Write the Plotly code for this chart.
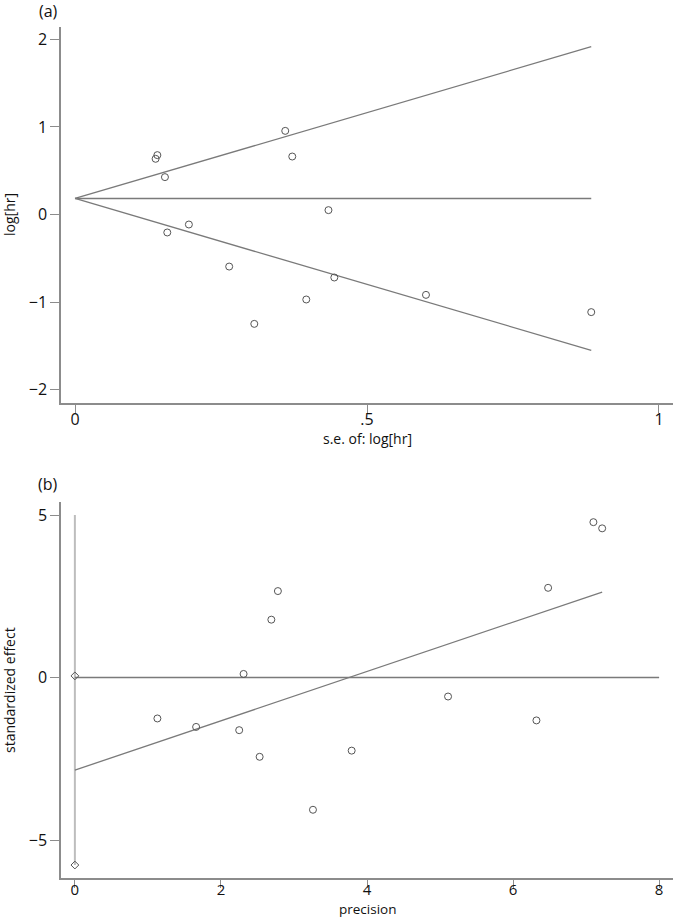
import plotly.graph_objects as go

# ---- Panel (a): funnel plot data ----
se_loghr = [0.138, 0.141, 0.154, 0.158, 0.195, 0.264, 0.307, 0.360, 0.372, 0.396, 0.434, 0.444, 0.601, 0.884]
loghr = [0.636, 0.678, 0.427, -0.205, -0.114, -0.594, -1.248, 0.955, 0.662, -0.970, 0.050, -0.719, -0.917, -1.114]
pooled_loghr = 0.183
funnel_se_max = 0.884
a_xticks = [0, 0.5, 1]
a_xticktext = ["0", ".5", "1"]
a_yticks = [-2, -1, 0, 1, 2]

# ---- Panel (b): Egger plot data ----
precision = [7.22, 7.10, 6.48, 6.32, 5.11, 3.79, 3.26, 2.78, 2.69, 2.53, 2.31, 2.25, 1.66, 1.13]
std_effect = [4.59, 4.78, 2.76, -1.32, -0.585, -2.25, -4.07, 2.66, 1.78, -2.44, 0.11, -1.62, -1.52, -1.26]
egger_intercept = -2.85
egger_slope = 0.759
egger_ci = [0.05, -5.77]
b_vline_top = 5
b_xticks = [0, 2, 4, 6, 8]
b_yticks = [-5, 0, 5]

FONT = "Open Sans"
LINE = "#7a7a7a"
AX = "#8c8c8c"
MK = "#555555"

fig = go.Figure()

# funnel lines (a)
lo_end = pooled_loghr - 1.96 * funnel_se_max
hi_end = pooled_loghr + 1.96 * funnel_se_max
for yend in [hi_end, pooled_loghr, lo_end]:
    fig.add_trace(go.Scatter(x=[0, funnel_se_max], y=[pooled_loghr, yend], mode="lines",
                             line=dict(color=LINE, width=1.3), xaxis="x", yaxis="y", hoverinfo="skip"))
fig.add_trace(go.Scatter(x=se_loghr, y=loghr, mode="markers",
                         marker=dict(symbol="circle-open", size=7, color=MK, line=dict(width=1)),
                         xaxis="x", yaxis="y"))

# Egger plot (b)
fig.add_trace(go.Scatter(x=[0, 0], y=[b_vline_top, min(egger_ci)], mode="lines",
                         line=dict(color="#bdbdbd", width=2), xaxis="x2", yaxis="y2", hoverinfo="skip"))
fig.add_trace(go.Scatter(x=[0, max(b_xticks)], y=[0, 0], mode="lines",
                         line=dict(color=LINE, width=1.3), xaxis="x2", yaxis="y2", hoverinfo="skip"))
xmax_p = max(precision)
fig.add_trace(go.Scatter(x=[0, xmax_p], y=[egger_intercept, egger_intercept + egger_slope * xmax_p],
                         mode="lines", line=dict(color=LINE, width=1.3), xaxis="x2", yaxis="y2", hoverinfo="skip"))
fig.add_trace(go.Scatter(x=[0, 0], y=egger_ci, mode="markers",
                         marker=dict(symbol="diamond-open", size=6, color=MK, line=dict(width=1)),
                         xaxis="x2", yaxis="y2"))
fig.add_trace(go.Scatter(x=precision, y=std_effect, mode="markers",
                         marker=dict(symbol="circle-open", size=7, color=MK, line=dict(width=1)),
                         xaxis="x2", yaxis="y2"))

W, H = 675, 920
xdom = [61 / W, 673 / W]
a_dom = [1 - 402.7 / H, 1 - 26.7 / H]
b_dom = [1 - 877.7 / H, 1 - 501.7 / H]

axcommon = dict(showline=True, linecolor=AX, linewidth=1.5, ticks="outside", ticklen=9,
                tickcolor=AX, tickwidth=1.2, showgrid=False, zeroline=False)
tf16 = dict(family=FONT, size=16, color="#111")
tf15 = dict(family=FONT, size=15, color="#111")

fig.update_layout(
    width=W, height=H, margin=dict(l=0, r=0, t=0, b=0),
    paper_bgcolor="white", plot_bgcolor="white", showlegend=False,
    xaxis=dict(domain=xdom, anchor="y", range=[-0.024, 1.024], tickvals=a_xticks,
               ticktext=a_xticktext, ticklabelstandoff=-8, tickfont=tf16, **axcommon),
    yaxis=dict(domain=a_dom, anchor="x", range=[-2.148, 2.144], tickvals=a_yticks,
               tickfont=tf16, **axcommon),
    xaxis2=dict(domain=xdom, anchor="y2", range=[-0.19, 8.19], tickvals=b_xticks,
                ticklabelstandoff=-11, tickfont=tf15, **axcommon),
    yaxis2=dict(domain=b_dom, anchor="x2", range=[-6.16, 5.41], tickvals=b_yticks,
                tickfont=tf16, **axcommon),
)

def ann(text, x, y, rot=0, size=15, yanchor="middle"):
    fig.add_annotation(text=text, x=x / W, y=1 - y / H, xref="paper", yref="paper",
                       showarrow=False, textangle=rot, xanchor="center", yanchor=yanchor,
                       font=dict(family=FONT, size=size, color="#111"))

ann("(a)", 48, 11, size=16)
ann("(b)", 48, 484, size=16)
ann("s.e. of: log[hr]", 367, 439, size=14)
ann("precision", 367, 920, size=13.5, yanchor="bottom")
ann("log[hr]", 9, 215, rot=-90, size=14)
ann("standardized effect", 9, 690, rot=-90, size=14)

fig.write_html("out.html", config={"displayModeBar": False},
               post_script="document.body.style.margin='0';document.body.style.padding='0';")
